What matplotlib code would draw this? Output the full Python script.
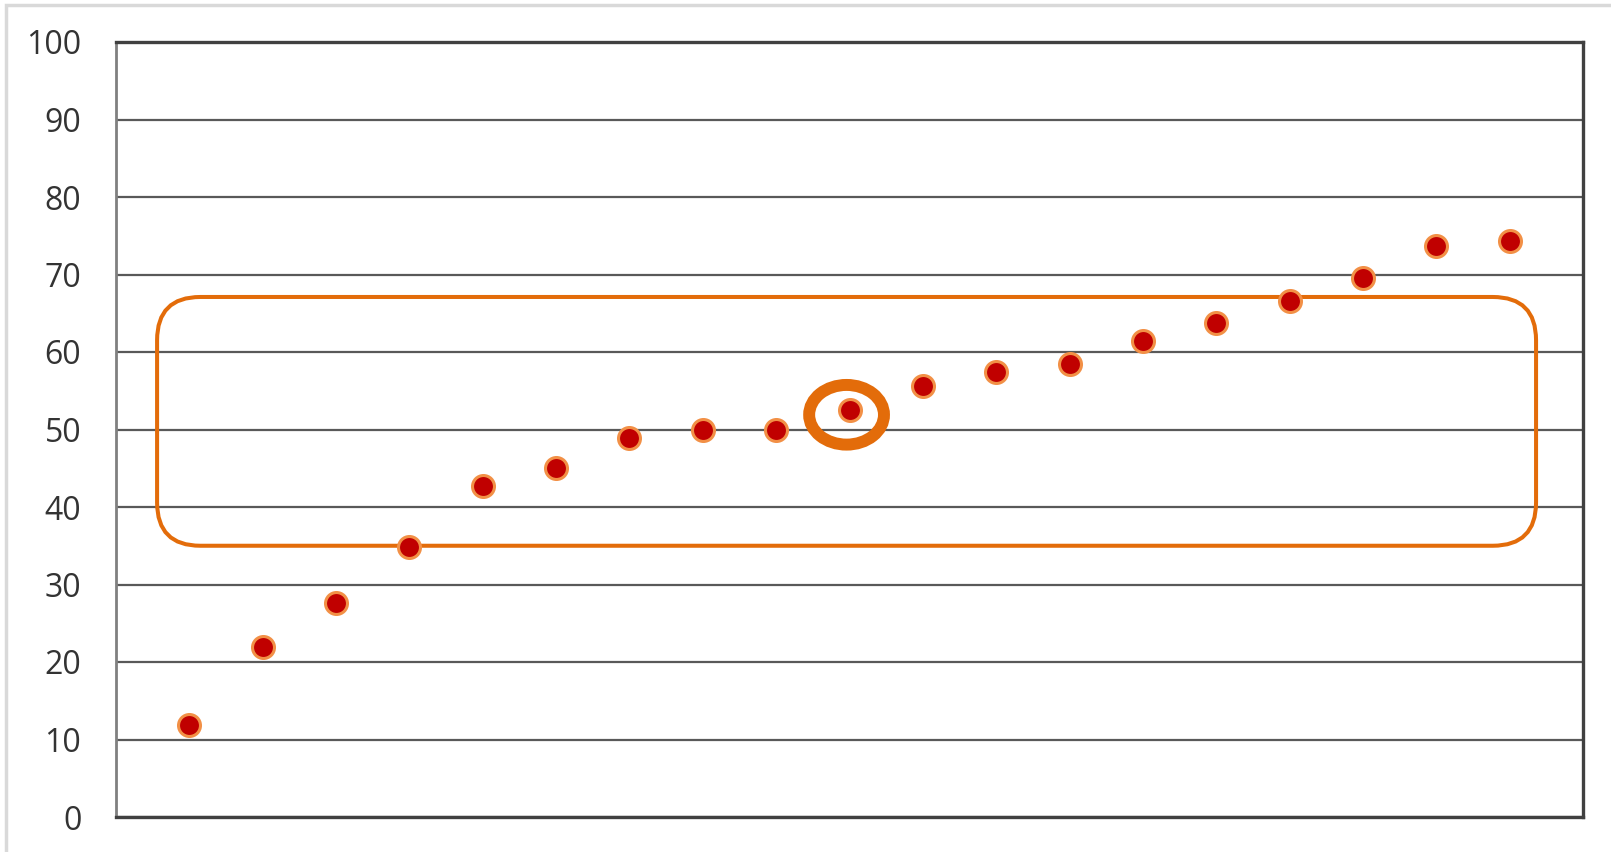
import numpy as np
import matplotlib.pyplot as plt
from matplotlib.patches import FancyBboxPatch, Ellipse, Rectangle

# scores per position, left to right
positions = list(range(1, 20))
scores = [11.9, 22.0, 27.6, 34.9, 42.7, 45.0, 48.9, 50.0, 50.0, 52.5,
          55.6, 57.4, 58.5, 61.4, 63.8, 66.6, 69.5, 73.7, 74.3]
y_ticks = list(range(0, 101, 10))

# highlighted band and the singled-out point
band_x = (0.56, 19.36)
band_y = (35.0, 67.1)
focus_idx = 9

ORANGE = "#E36C0A"
RED = "#C00000"
GRID = "#595959"

plt.rcParams['font.family'] = ['Open Sans', 'DejaVu Sans']

fig = plt.figure(figsize=(16.11, 8.52), dpi=100)
fig.patches.append(Rectangle((6 / 1611, -0.01), 1.2, (852 - 5) / 852 + 0.01,
                             transform=fig.transFigure, fill=False,
                             edgecolor="#D9D9D9", linewidth=2.5))
ax = fig.add_axes([116 / 1611, 1 - 817 / 852, (1583 - 116) / 1611, (817 - 42) / 852])

ax.set_xlim(0, 20)
ax.set_ylim(0, 100)
ax.set_yticks(y_ticks)
ax.set_xticks([])
ax.tick_params(axis='y', length=0, pad=25, labelsize=23, labelcolor="#333333")
ax.grid(axis='y', color=GRID, linewidth=1.6)
ax.set_axisbelow(True)
for side in ["top", "right", "bottom"]:
    ax.spines[side].set_color("#404040")
    ax.spines[side].set_linewidth(2.4)
ax.spines["left"].set_color("#808080")
ax.spines["left"].set_linewidth(2.0)

# rounded band; aspect keeps the corners circular on screen
px_x = ax.get_position().width * 1611 / 20
px_y = ax.get_position().height * 852 / 100
band = FancyBboxPatch((band_x[0], band_y[0]), band_x[1] - band_x[0], band_y[1] - band_y[0],
                      boxstyle="round,pad=0,rounding_size=0.59",
                      mutation_aspect=px_x / px_y,
                      fill=False, edgecolor=ORANGE, linewidth=2.9, zorder=3)
ax.add_patch(band)

ax.scatter(positions, scores, s=250, color=RED, edgecolors="#F29046",
           linewidths=2.2, zorder=4)

ax.add_patch(Ellipse((positions[focus_idx] - 0.04, scores[focus_idx] - 0.6), 1.02, 7.7,
                     fill=False, edgecolor=ORANGE, linewidth=8.6, zorder=5))

fig.savefig("out.png", dpi=100)
